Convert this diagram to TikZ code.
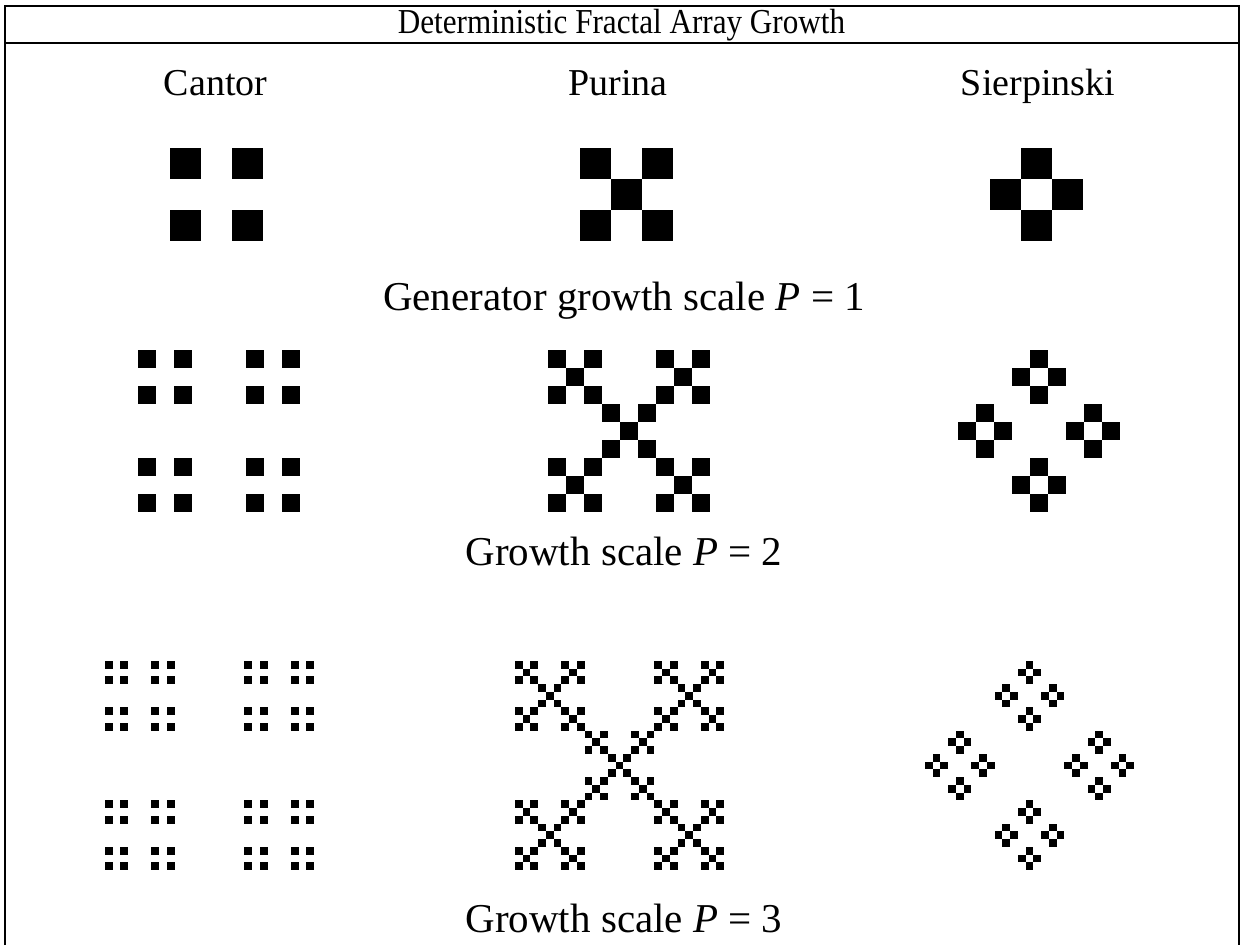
\documentclass[tikz,border=0pt]{standalone}
\usepackage{fontspec}
\setmainfont{Liberation Serif}
\newcommand\fracone[4]{%
  \foreach \ia/\ib in #1 {\fill[cell] ({#2+\ia*#4},{#3+\ib*#4}) rectangle ++(#4,#4);}}
\newcommand\fractwo[4]{%
  \foreach \ia/\ib in #1 {\foreach \ja/\jb in #1 {%
    \fill[cell] ({#2+(3*\ia+\ja)*#4},{#3+(3*\ib+\jb)*#4}) rectangle ++(#4,#4);}}}
\newcommand\fracthree[4]{%
  \foreach \ia/\ib in #1 {\foreach \ja/\jb in #1 {\foreach \ka/\kb in #1 {%
    \fill[cell] ({#2+(9*\ia+3*\ja+\ka)*#4},{#3+(9*\ib+3*\jb+\kb)*#4}) rectangle ++(#4,#4);}}}}
\def\cantorgen{0/0,2/0,0/2,2/2}
\def\purinagen{0/0,2/0,1/1,0/2,2/2}
\def\sierpgen{1/0,0/1,2/1,1/2}
\tikzset{
  cell/.style={fill=black},
  frame/.style={line width=1.8pt, black},
  lbl/.style={inner sep=0pt, anchor=base},
  titlelbl/.style={lbl, font=\fontsize{35}{40}\selectfont},
  headlbl/.style={lbl, font=\fontsize{38}{42}\selectfont},
  caplbl/.style={lbl, font=\fontsize{41}{46}\selectfont},
}
\begin{document}
\begin{tikzpicture}[x=1pt,y=-1pt]
\useasboundingbox (0,0) rectangle (1244,945);
\fill[white] (0,0) rectangle (1244,945);
% frame
\draw[frame] (5,945) -- (5,6) -- (1239,6) -- (1239,945);
\draw[frame] (5,43) -- (1239,43);
% texts
\node[titlelbl] (title) at (621.5,33) {\scalebox{0.89}[1]{Deterministic Fractal Array Growth}};
\node[headlbl] (hcantor) at (215.5,95) {Cantor};
\node[headlbl] (hpurina) at (618,95) {Purina};
\node[headlbl] (hsierp) at (1038,95) {Sierpinski};
\node[caplbl] (cap1) at (624,310) {Generator growth scale \textit{P} = 1};
\node[caplbl] (cap2) at (624,565) {Growth scale \textit{P} = 2};
\node[caplbl] (cap3) at (624,932) {Growth scale \textit{P} = 3};
% P = 1
\fracone{\cantorgen}{170}{148}{31}
\fracone{\purinagen}{580}{148}{31}
\fracone{\sierpgen}{990}{148}{31}
% P = 2
\fractwo{\cantorgen}{137.7}{350}{18}
\fractwo{\purinagen}{547.7}{350}{18}
\fractwo{\sierpgen}{958}{350}{18}
% P = 3
\fracthree{\cantorgen}{105}{661}{7.74}
\fracthree{\purinagen}{515}{661}{7.74}
\fracthree{\sierpgen}{925}{661}{7.74}
\end{tikzpicture}
\end{document}
